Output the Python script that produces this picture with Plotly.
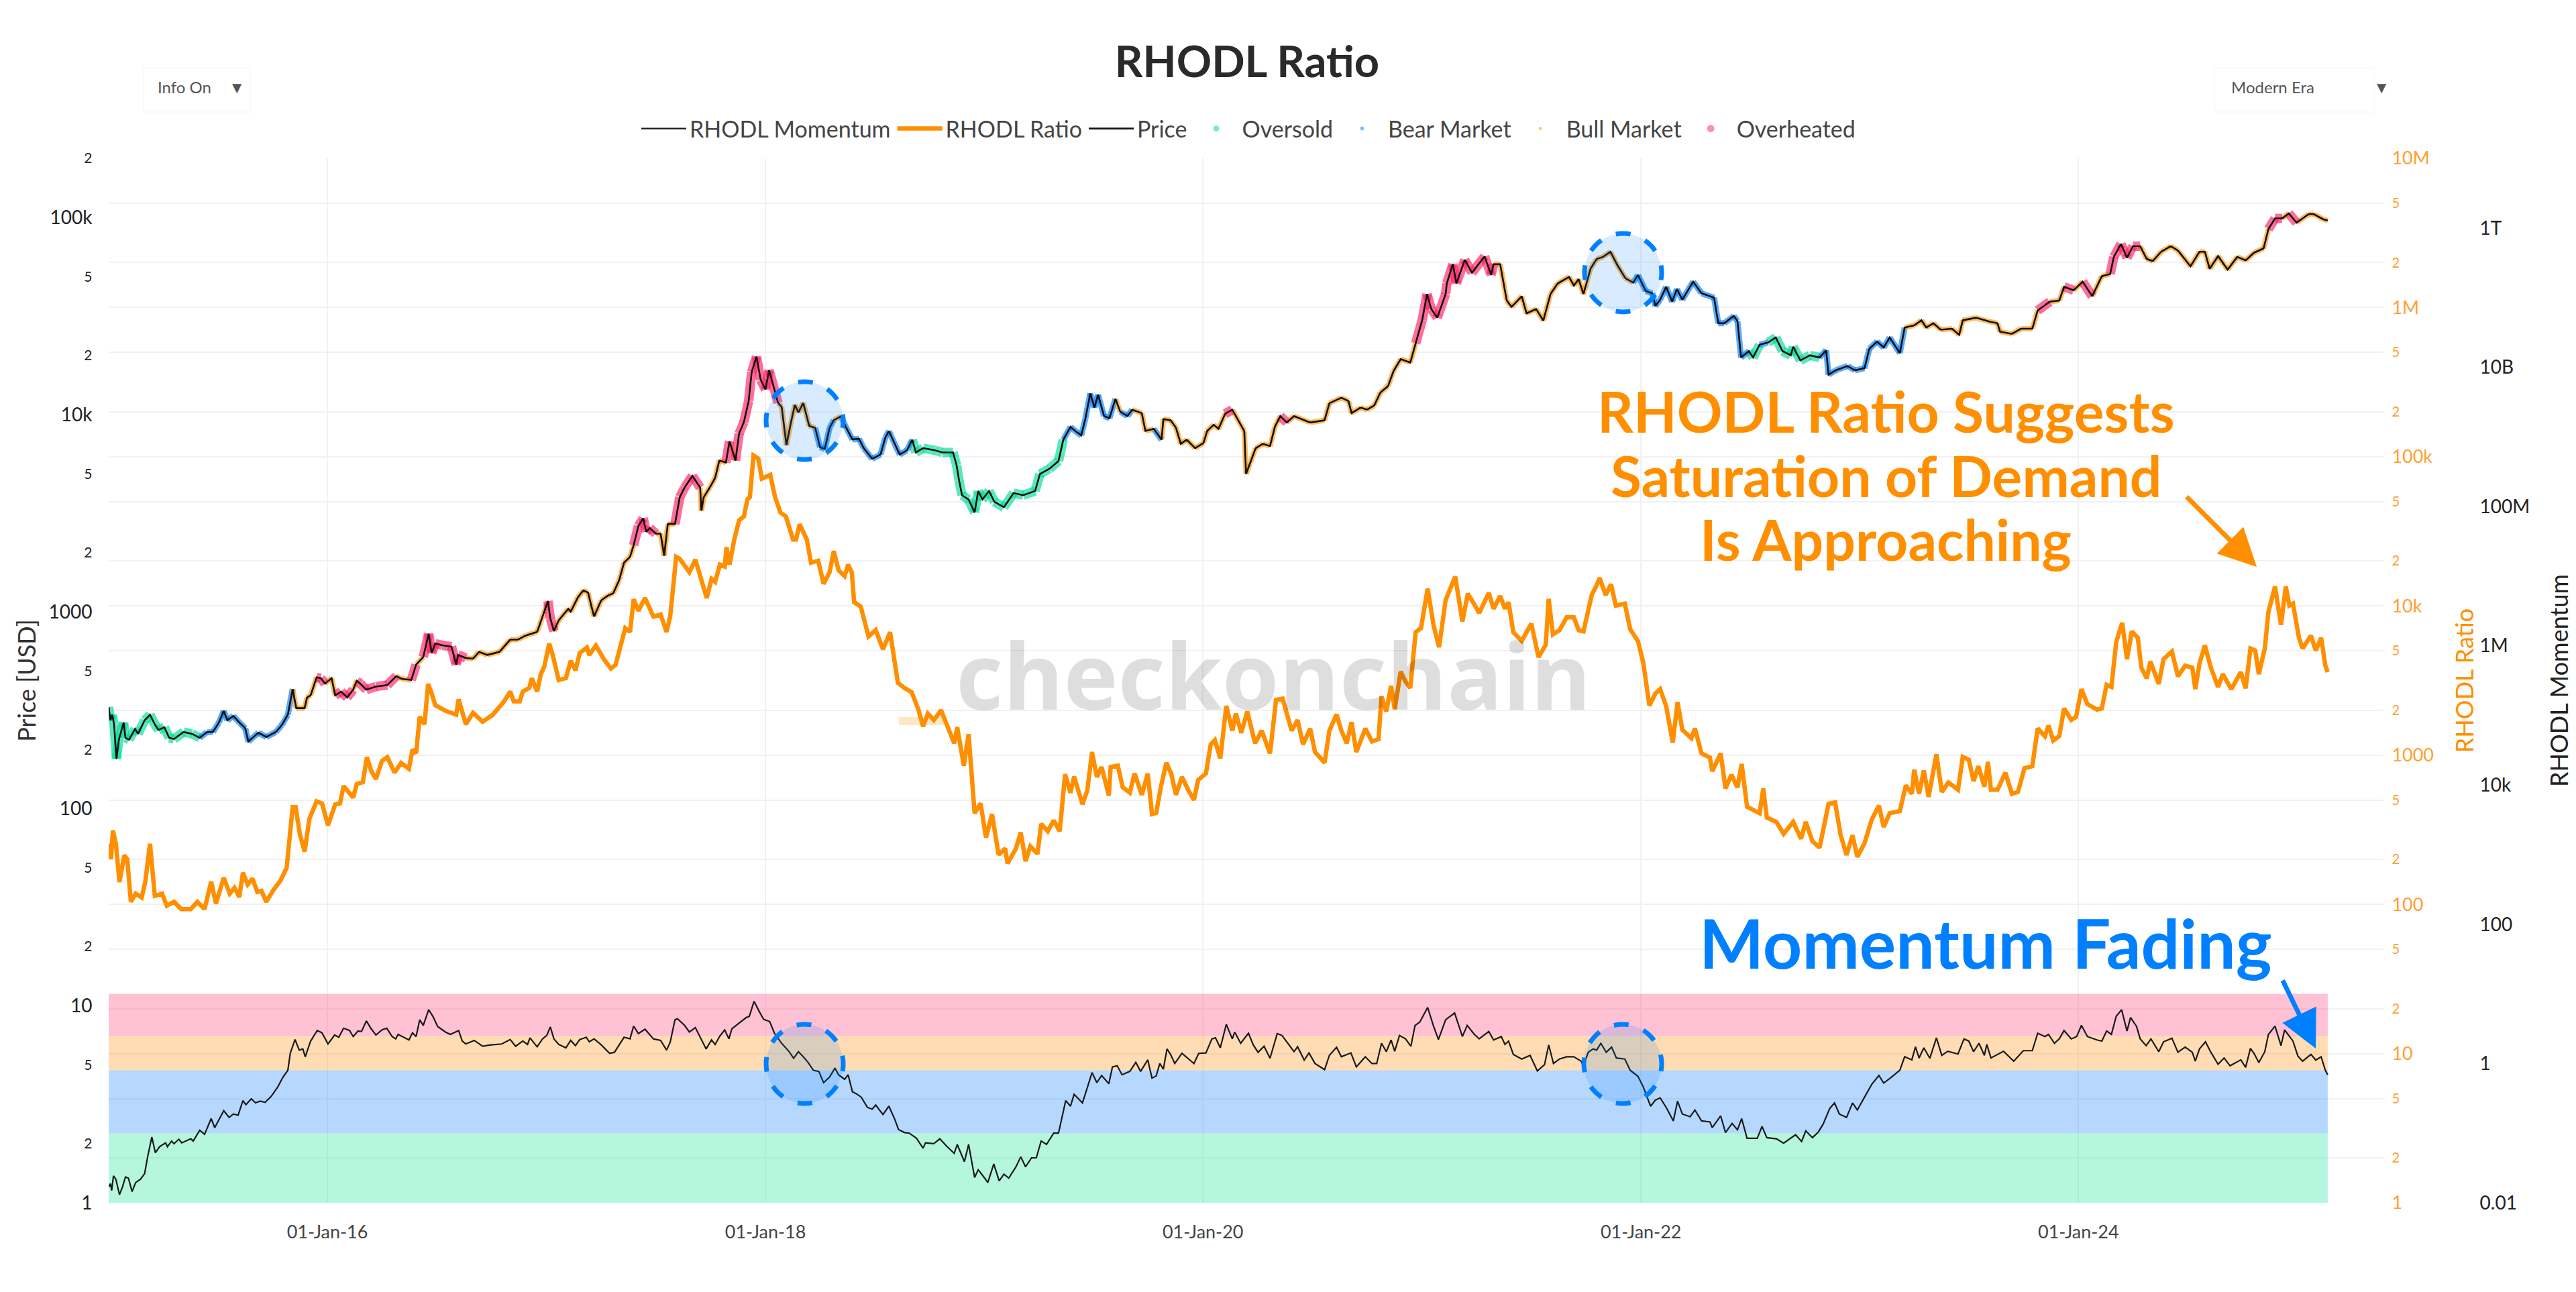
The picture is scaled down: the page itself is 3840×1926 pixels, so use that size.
import numpy as np
import pandas as pd
import plotly.graph_objects as go

# days since 01-Jan-2015
price_days = [0, 3, 6, 9, 13, 17, 25, 28, 34, 44, 49, 60, 69, 77, 83, 93, 101, 109, 125, 139, 152, 164, 174, 184, 192, 198,
    208, 218, 228, 233, 240, 250, 263, 279, 289, 299, 307, 313, 327, 331, 337, 347, 354, 361, 372, 378, 388, 398, 408, 414,
    420, 430, 446, 465, 480, 489, 505, 513, 525, 534, 539, 545, 557, 572, 580, 583, 596, 608, 618, 632, 652, 670, 683, 695,
    715, 723, 733, 737, 743, 751, 767, 771, 783, 792, 800, 805, 810, 822, 834, 842, 852, 860, 870, 876, 884, 892, 897, 903,
    913, 921, 927, 933, 945, 953, 961, 974, 987, 989, 993, 1003, 1012, 1019, 1030, 1036, 1046, 1052, 1060, 1068, 1073, 1081,
    1088, 1096, 1102, 1110, 1117, 1123, 1131, 1138, 1145, 1151, 1159, 1169, 1179, 1187, 1195, 1203, 1210, 1222, 1231, 1241,
    1252, 1260, 1274, 1288, 1296, 1302, 1310, 1320, 1332, 1341, 1347, 1359, 1379, 1391, 1409, 1415, 1419, 1424, 1435, 1445,
    1451, 1458, 1469, 1478, 1494, 1510, 1526, 1546, 1554, 1570, 1585, 1593, 1605, 1613, 1623, 1630, 1638, 1645, 1651, 1661,
    1670, 1680, 1688, 1700, 1708, 1724, 1730, 1744, 1757, 1760, 1772, 1781, 1789, 1799, 1813, 1827, 1833, 1844, 1852, 1863,
    1875, 1886, 1895, 1898, 1906, 1914, 1926, 1938, 1946, 1955, 1966, 1978, 2005, 2029, 2037, 2057, 2069, 2074, 2089, 2100,
    2112, 2122, 2135, 2144, 2156, 2172, 2181, 2192, 2200, 2207, 2217, 2231, 2233, 2243, 2249, 2263, 2275, 2296, 2307, 2311,
    2322, 2333, 2341, 2358, 2366, 2382, 2394, 2406, 2418, 2437, 2445, 2453, 2461, 2473, 2483, 2494, 2506, 2518, 2531, 2544,
    2552, 2565, 2576, 2581, 2589, 2599, 2609, 2617, 2626, 2644, 2658, 2679, 2686, 2696, 2712, 2718, 2724, 2737, 2744, 2755,
    2769, 2782, 2793, 2807, 2811, 2823, 2839, 2855, 2866, 2870, 2882, 2902, 2914, 2930, 2938, 2951, 2962, 2972, 2989, 2997,
    3013, 3025, 3033, 3045, 3057, 3076, 3088, 3094, 3116, 3140, 3152, 3156, 3176, 3191, 3210, 3219, 3239, 3255, 3263, 3279,
    3294, 3310, 3326, 3340, 3346, 3358, 3368, 3378, 3390, 3401, 3411, 3425, 3441, 3453, 3474, 3489, 3498, 3506, 3520, 3536,
    3552, 3566, 3580, 3596, 3604, 3615, 3627, 3638, 3651, 3671, 3680, 3695, 3703]
price_usd = [328, 281, 300, 268, 179, 224, 274, 229, 224, 254, 240, 281, 300, 268, 251, 259, 229, 226, 245, 240, 229, 245, 245, 274, 314, 281,
    296, 274, 256, 219, 229, 243, 231, 245, 266, 300, 405, 324, 324, 367, 376, 464, 460, 431, 460, 376, 393, 367, 402, 446,
    431, 402, 417, 424, 471, 456, 450, 538, 589, 773, 617, 690, 675, 665, 538, 603, 582, 577, 625, 603, 625, 721, 721, 755,
    789, 924, 1132, 924, 797, 904, 1035, 1000, 1183, 1282, 1250, 1083, 946, 1143, 1211, 1239, 1449, 1774, 1898, 2173, 2723, 2979, 2543, 2661,
    2489, 2489, 1923, 2786, 2786, 3811, 4266, 4887, 4266, 3258, 3811, 4266, 4775, 5848, 5715, 7328, 5848, 8017, 9170, 11750, 16440, 19720,
    15030, 13430, 16830, 13740, 11480, 10970, 6998, 8968, 11220, 10250, 11480, 8770, 8570, 6839, 6690, 8570, 9376, 9810, 8570, 7480,
    7550, 6760, 5970, 6270, 7660, 8260, 7280, 6270, 6590, 7460, 6430, 6760, 6590, 6430, 6430, 5530, 4650, 3900, 3710, 3190,
    4100, 3710, 4100, 3610, 3390, 4000, 3900, 4100, 5000, 5320, 5820, 7460, 8670, 8260, 7850, 9590, 12820, 10860, 12620, 9840,
    9590, 12020, 10350, 9840, 10600, 10180, 8260, 8470, 7460, 9500, 9360, 8590, 7110, 7460, 6760, 7180, 8260, 8890, 8470, 10100,
    10600, 9230, 8260, 5000, 5820, 6760, 7110, 6930, 8670, 9840, 9120, 9840, 9120, 9360, 11430, 12190, 11720, 10180, 10860, 10600,
    11140, 12940, 13960, 16630, 19140, 18380, 23010, 30270, 40930, 34360, 31050, 40930, 46340, 58080, 46340, 61090, 52500, 63550, 51170, 58080,
    58080, 37930, 35210, 39900, 32660, 34360, 29990, 40930, 46340, 50000, 45190, 48750, 40930, 55210, 61660, 63240, 67140, 57150, 49200, 46770,
    51170, 42360, 41300, 35560, 38280, 44570, 37410, 43450, 38280, 47320, 41300, 39260, 29110, 29110, 31700, 29850, 19500, 21040, 19500, 22650,
    23230, 24660, 21040, 20000, 22130, 18840, 20000, 19500, 21230, 15960, 16790, 17660, 16790, 17220, 21580, 23500, 21880, 24660, 20510, 27670,
    28380, 30130, 27670, 29110, 26980, 27290, 25410, 30130, 31050, 29580, 29110, 26370, 25700, 27290, 27290, 33810, 37410, 37930, 44570, 42760,
    47320, 39900, 50470, 51760, 63240, 73450, 62520, 71610, 71610, 61660, 60120, 67140, 71610, 68080, 56620, 67140, 67140, 54950, 63830, 54450,
    63240, 60670, 66370, 69820, 87500, 99080, 99080, 105200, 94190, 104100, 104100, 98200, 96600]

ratio_days = [0, 4, 7, 12, 18, 22, 26, 31, 37, 45, 55, 61, 69, 77, 89, 97, 109, 121, 137, 148, 160, 171, 179, 192, 202, 210,
    218, 224, 232, 240, 248, 255, 263, 275, 287, 297, 307, 312, 319, 327, 335, 347, 356, 366, 378, 386, 392, 408, 414, 424,
    431, 438, 446, 456, 465, 477, 488, 501, 507, 513, 519, 527, 533, 538, 545, 562, 580, 584, 596, 608, 624, 641, 660, 670,
    676, 686, 691, 702, 706, 715, 721, 727, 735, 741, 751, 763, 771, 779, 786, 798, 802, 813, 826, 838, 846, 862, 870, 876,
    884, 895, 909, 921, 931, 937, 947, 953, 961, 969, 979, 989, 998, 1006, 1012, 1020, 1028, 1031, 1036, 1044, 1052, 1060,
    1066, 1070, 1076, 1084, 1090, 1104, 1112, 1121, 1130, 1142, 1147, 1153, 1159, 1165, 1172, 1184, 1193, 1203, 1210, 1218,
    1228, 1234, 1240, 1244, 1255, 1264, 1268, 1280, 1292, 1304, 1312, 1317, 1328, 1340, 1351, 1359, 1367, 1377, 1389, 1399,
    1411, 1416, 1427, 1435, 1445, 1455, 1464, 1474, 1485, 1496, 1500, 1514, 1522, 1530, 1538, 1550, 1556, 1567, 1577, 1587,
    1596, 1605, 1611, 1625, 1633, 1641, 1649, 1657, 1669, 1672, 1684, 1692, 1704, 1712, 1724, 1734, 1741, 1748, 1756, 1765,
    1773, 1781, 1791, 1802, 1811, 1818, 1831, 1839, 1846, 1855, 1865, 1875, 1881, 1890, 1900, 1913, 1924, 1938, 1948, 1959,
    1974, 1984, 1993, 2005, 2013, 2029, 2037, 2049, 2057, 2066, 2074, 2082, 2097, 2108, 2119, 2124, 2132, 2140, 2146, 2156,
    2164, 2172, 2181, 2190, 2201, 2211, 2220, 2231, 2247, 2259, 2268, 2279, 2287, 2303, 2311, 2322, 2330, 2336, 2344, 2358,
    2374, 2386, 2398, 2403, 2410, 2421, 2433, 2445, 2453, 2461, 2469, 2475, 2483, 2488, 2498, 2507, 2515, 2530, 2539, 2552,
    2561, 2571, 2581, 2589, 2599, 2610, 2618, 2626, 2641, 2647, 2658, 2672, 2676, 2690, 2698, 2708, 2718, 2725, 2734, 2755,
    2761, 2767, 2783, 2795, 2811, 2824, 2832, 2843, 2855, 2870, 2881, 2890, 2900, 2910, 2918, 2930, 2942, 2954, 2962, 2972,
    2989, 2999, 3009, 3013, 3021, 3029, 3037, 3050, 3059, 3070, 3086, 3094, 3104, 3112, 3120, 3130, 3136, 3141, 3152, 3165,
    3176, 3186, 3197, 3210, 3219, 3231, 3237, 3245, 3255, 3263, 3275, 3283, 3292, 3302, 3318, 3326, 3334, 3342, 3350, 3360,
    3368, 3376, 3386, 3392, 3401, 3407, 3421, 3429, 3443, 3453, 3465, 3477, 3482, 3489, 3498, 3508, 3520, 3528, 3542, 3558,
    3566, 3574, 3582, 3588, 3598, 3604, 3615, 3625, 3633, 3639, 3645, 3655, 3661, 3675, 3683, 3692, 3699, 3703]
ratio_vals = [255, 201, 313, 255, 141, 173, 213, 201, 104, 118, 111, 141, 255, 114, 118, 98, 104, 93, 93, 104, 93, 142, 101, 151, 118, 129,
    112, 163, 136, 149, 121, 123, 104, 125, 145, 176, 448, 448, 296, 226, 375, 490, 475, 339, 467, 475, 621, 520, 640, 659,
    970, 787, 692, 914, 970, 765, 887, 811, 1091, 1030, 1811, 1607, 2999, 2667, 2163, 1982, 1866, 2366, 1607, 1923, 1675, 1866, 2296, 2667,
    2296, 2296, 2667, 2825, 3281, 2667, 3483, 3920, 5598, 4688, 3184, 3281, 4285, 3698, 4831, 5272, 4688, 5433, 4416, 3802, 4036, 7096, 6699, 11090,
    9290, 11300, 8492, 8750, 6699, 8492, 21330, 20700, 18370, 16830, 20460, 14930, 11300, 15200, 14490, 18920, 18370, 24720, 18920, 27860, 37500, 39810,
    52000, 53580, 101900, 97050, 71290, 75680, 53580, 42270, 39810, 27860, 27860, 35320, 31400, 27860, 19500, 20090, 14060, 16830, 23330, 17340,
    15850, 18920, 16800, 10590, 9910, 7360, 6240, 6880, 5120, 6670, 4200, 3050, 2820, 2640, 2030, 1560, 1900, 1720, 2000, 1560,
    1200, 1540, 850, 1380, 408, 475, 280, 403, 215, 237, 188, 237, 303, 195, 245, 218, 346, 309, 365, 309,
    745, 560, 719, 469, 579, 1050, 714, 832, 535, 832, 850, 610, 560, 753, 542, 753, 403, 410, 618, 889,
    753, 542, 714, 579, 500, 682, 753, 1180, 1262, 951, 2138, 1459, 1900, 1413, 1963, 1200, 1459, 1028, 2350, 2393,
    1459, 1720, 1180, 1507, 1050, 889, 1459, 1875, 1459, 1200, 1663, 1050, 1507, 1236, 1279, 2472, 1963, 2917, 2030, 3631,
    3119, 2820, 6670, 7120, 13060, 7360, 5290, 10940, 15740, 7860, 12080, 10230, 8970, 12250, 9580, 11670, 9580, 10590, 6670, 5840,
    7610, 4540, 5470, 11150, 6440, 6880, 8390, 8390, 6880, 6750, 9580, 11910, 13770, 15420, 11830, 13960, 10050, 10370, 6980, 5810,
    4120, 2150, 2590, 2770, 2130, 1213, 2270, 1479, 1297, 1510, 1028, 964, 780, 1028, 598, 740, 607, 873, 451, 408,
    598, 382, 357, 297, 357, 275, 357, 265, 240, 472, 482, 293, 214, 290, 208, 257, 370, 459, 330, 408,
    422, 627, 550, 800, 550, 790, 525, 1014, 567, 656, 586, 975, 931, 670, 843, 615, 901, 586, 586, 764,
    550, 567, 817, 843, 1510, 1340, 1581, 1253, 1340, 2056, 1722, 1803, 2770, 2198, 2018, 2056, 2958, 2864, 5728, 7709,
    4395, 6761, 6124, 3855, 3266, 4256, 3000, 4395, 4955, 3373, 3981, 3855, 2770, 4120, 5433, 3855, 2864, 3491, 2770, 3606,
    2806, 5188, 5023, 3491, 5188, 9099, 13520, 7464, 13520, 10050, 10370, 6124, 5188, 6324, 5023, 6124, 3981, 3606]

momentum_days = [0, 3, 5, 8, 12, 18, 23, 28, 33, 39, 45, 53, 60, 65, 72, 78, 85, 95, 98, 105, 109, 117, 122, 137, 141, 152,
    160, 171, 177, 192, 201, 208, 216, 224, 229, 238, 245, 253, 261, 271, 282, 291, 299, 303, 311, 318, 324, 328, 337, 348,
    356, 366, 377, 384, 392, 402, 408, 416, 422, 430, 438, 446, 456, 464, 473, 479, 483, 493, 501, 507, 513, 519, 525, 534,
    541, 549, 562, 570, 584, 590, 596, 610, 624, 638, 656, 670, 679, 691, 699, 703, 715, 724, 731, 737, 743, 751, 763, 771,
    779, 786, 797, 802, 810, 822, 836, 844, 860, 870, 876, 884, 895, 909, 921, 931, 937, 945, 949, 961, 969, 979, 989, 997,
    1006, 1012, 1020, 1028, 1035, 1040, 1052, 1064, 1069, 1077, 1085, 1093, 1103, 1111, 1123, 1135, 1143, 1151, 1159, 1167, 1176, 1185,
    1193, 1203, 1212, 1218, 1228, 1234, 1241, 1248, 1256, 1266, 1274, 1280, 1292, 1302, 1312, 1318, 1328, 1336, 1348, 1359, 1363, 1377,
    1387, 1399, 1411, 1416, 1428, 1435, 1445, 1451, 1461, 1467, 1477, 1486, 1494, 1502, 1514, 1522, 1530, 1540, 1548, 1556, 1565, 1577,
    1585, 1597, 1605, 1611, 1625, 1641, 1649, 1657, 1669, 1675, 1683, 1691, 1704, 1714, 1722, 1734, 1741, 1748, 1754, 1760, 1766, 1772,
    1779, 1791, 1811, 1819, 1831, 1841, 1847, 1855, 1865, 1875, 1879, 1889, 1902, 1910, 1918, 1928, 1938, 1950, 1958, 1978, 1984, 1995,
    2003, 2013, 2029, 2037, 2049, 2057, 2073, 2082, 2097, 2108, 2116, 2124, 2132, 2140, 2146, 2154, 2164, 2173, 2180, 2188, 2201, 2211,
    2219, 2231, 2246, 2259, 2267, 2279, 2287, 2303, 2311, 2324, 2330, 2336, 2344, 2358, 2372, 2384, 2396, 2403, 2411, 2421, 2433, 2445,
    2457, 2461, 2469, 2477, 2483, 2490, 2499, 2508, 2516, 2530, 2539, 2552, 2561, 2573, 2581, 2589, 2599, 2611, 2618, 2626, 2639, 2647,
    2658, 2672, 2676, 2690, 2698, 2709, 2718, 2725, 2734, 2751, 2759, 2767, 2783, 2795, 2815, 2825, 2832, 2843, 2853, 2861, 2872, 2880,
    2888, 2900, 2910, 2918, 2930, 2942, 2954, 2962, 2973, 2989, 2997, 3009, 3015, 3021, 3029, 3039, 3050, 3059, 3069, 3086, 3096, 3104,
    3112, 3121, 3130, 3134, 3141, 3162, 3179, 3195, 3210, 3219, 3231, 3237, 3247, 3255, 3263, 3275, 3284, 3292, 3302, 3318, 3326, 3334,
    3342, 3350, 3359, 3368, 3374, 3384, 3390, 3400, 3408, 3421, 3429, 3443, 3453, 3465, 3477, 3482, 3489, 3499, 3508, 3520, 3530, 3540,
    3558, 3566, 3574, 3580, 3588, 3598, 3604, 3615, 3625, 3631, 3645, 3653, 3661, 3675, 3683, 3692, 3699, 3703]
momentum_vals = [.0168, .0188, .0150, .0244, .0218, .0131, .0168, .0235, .0226, .0145, .0195, .0218, .0262, .0458, .0881, .0523, .0640, .0726, .0640, .0771, .0705, .0818, .0726, .0830, .0771, .110,
    .0964, .162, .120, .210, .168, .188, .181, .293, .256, .311, .272, .289, .277, .336, .458, .640, .800, 1.40, 2.21, 1.56, 1.62, 1.25, 2.10, 2.98,
    2.76, 1.91, 2.56, 2.38, 3.21, 2.98, 2.44, 2.93, 2.89, 4.09, 3.16, 2.56, 3.04, 3.21, 2.44, 2.26, 2.62, 2.38, 2.18, 2.76, 2.44, 4.25, 3.53, 5.94,
    4.76, 3.40, 2.83, 2.62, 2.98, 2.10, 1.91, 2.15, 1.77, 1.85, 1.91, 2.21, 1.77, 2.10, 1.88, 2.34, 1.74, 2.26, 2.53, 3.35, 2.26, 1.88, 1.68, 2.15,
    1.81, 2.21, 2.38, 2.05, 2.26, 1.85, 1.40, 1.45, 2.38, 2.26, 3.45, 2.69, 3.11, 2.26, 2.15, 1.56, 2.02, 4.25, 4.41, 3.53, 2.83, 3.28, 2.26, 1.62,
    2.18, 1.88, 2.49, 3.04, 2.26, 3.16, 3.80, 4.58, 4.76, 7.82, 5.71, 4.31, 4.01, 2.72, 1.95, 1.50, 1.19, 1.48, 1.25, 1.04, .800, .771,
    .531, .640, .861, .689, .594, .689, .394, .366, .328, .235, .221, .253, .185, .244, .156, .113, .102, .100, .0843, .0608, .0726, .0705,
    .0830, .0640, .0513, .0689, .0389, .0689, .0231, .0298, .0231, .0195, .0361, .0206, .0257, .0226, .0328, .0458, .0328, .0442, .0442, .0771, .0689, .100,
    .100, .293, .244, .361, .272, .741, .531, .674, .512, .893, .927, .689, .771, 1.04, .771, 1.13, .617, .664, 1.0, .830, 1.62, 1.35,
    1.0, 1.40, 1.0, 1.40, 1.42, 2.26, 2.34, 1.68, 3.66, 2.26, 2.83, 1.95, 2.72, 1.85, 1.45, 1.77, 1.19, 2.69, 2.53, 1.48, 1.74, 1.12,
    1.42, 1.0, .817, 1.31, 1.71, 1.25, 1.42, .893, 1.25, 1.0, 1.0, 1.95, 1.48, 2.18, 1.50, 2.53, 2.26, 1.77, 3.53, 3.94, 6.39, 3.40,
    2.21, 4.25, 5.31, 2.44, 3.53, 2.62, 2.26, 2.89, 2.18, 2.44, 1.88, 2.10, 1.35, 1.16, 1.31, .782, .962, 1.85, 1.0, 1.16, 1.25, 1.25,
    1.08, .927, 1.45, 1.62, 1.56, 1.95, 1.45, 1.72, 1.20, 1.16, .800, .654, .458, .244, .298, .321, .235, .150, .289, .188, .172, .215,
    .150, .145, .120, .177, .102, .138, .112, .162, .0843, .0843, .125, .0862, .0830, .0716, .0949, .0759, .108, .0862, .104, .135, .226, .272,
    .188, .168, .272, .215, .328, .501, .674, .524, .617, .800, 1.25, 1.13, 1.74, 1.20, 1.68, 1.19, 2.34, 1.31, 1.50, 1.37, 2.26, 2.10,
    1.48, 1.95, 1.31, 1.88, 1.20, 1.50, 1.08, 1.53, 1.53, 2.72, 2.44, 2.62, 1.95, 2.26, 2.98, 2.26, 2.44, 3.53, 2.44, 2.18, 2.10, 2.93,
    2.62, 4.76, 5.94, 2.93, 4.58, 3.40, 2.26, 1.81, 2.26, 1.48, 2.05, 2.31, 1.45, 1.72, 1.45, 1.08, 1.62, 2.05, 1.45, .977, 1.20, .927,
    1.13, .881, 1.65, 1.40, 1.03, 1.48, 2.62, 3.45, 1.81, 3.04, 2.10, 1.29, 1.08, 1.35, 1.12, 1.25, .800, .689]

zone_names = ["Oversold", "Bear Market", "Bull Market", "Overheated"]
zone_limits = [0.01, 0.1, 0.8, 2.5, 10]
callout_lines = ["RHODL Ratio Suggests", "Saturation of Demand", "Is Approaching"]

PRICE_TOP = 5.301
MOM_RANGE = [-2, 13]

START = pd.Timestamp("2015-01-01")


def to_dates(days):
    return START + pd.to_timedelta(days, unit="D")


# pixel positions of the reference page -> paper fractions
def px(x):
    return (x - 162) / 3658


def py(y):
    return (1793 - y) / 1557


# momentum level expressed on the price axis, the "between" layer only exists on the main subplot
def mom_on_price_axis(m):
    return 10 ** ((np.log10(m) - MOM_RANGE[0]) / (MOM_RANGE[1] - MOM_RANGE[0]) * PRICE_TOP)


FONT = "Lato"
ORANGE = "#ff8f00"
BLUE = "#0080ff"
zone_halo = ["rgba(0,220,150,0.65)", "rgba(0,128,255,0.65)", "rgba(255,147,0,0.6)", "rgba(255,30,100,0.65)"]
zone_dot = ["#7fe9c4", "#80bfff", "#ffc780", "#ff8fb0"]
zone_width = [14, 9, 8, 14]
zone_dot_size = [9, 6, 5, 11]
zone_band = ["rgba(8,225,145,0.3)", "rgba(12,125,255,0.3)", "rgba(255,138,2,0.3)", "rgba(255,51,112,0.3)"]

# zone of every price point comes from where momentum sits on that day
mom_at_price = np.interp(price_days, momentum_days, momentum_vals)
price_zone = np.clip(np.searchsorted(zone_limits[1:-1], mom_at_price), 0, 3)

fig = go.Figure()

fig.add_trace(go.Scatter(x=to_dates(momentum_days), y=momentum_vals, name="RHODL Momentum", yaxis="y3",
                         mode="lines", line=dict(color="#1a1a1a", width=2.2)))
fig.add_trace(go.Scatter(x=to_dates(ratio_days), y=ratio_vals, name="RHODL Ratio", yaxis="y2",
                         mode="lines", line=dict(color=ORANGE, width=6.5)))

for z, zname in enumerate(zone_names):
    xs, ys = [], []
    for i in range(len(price_days) - 1):
        if price_zone[i] == z:
            xs += [to_dates(price_days[i]), to_dates(price_days[i + 1]), None]
            ys += [price_usd[i], price_usd[i + 1], None]
    fig.add_trace(go.Scatter(x=xs, y=ys, mode="lines", showlegend=False, legendgroup=zname, hoverinfo="skip",
                             line=dict(color=zone_halo[z], width=zone_width[z])))

fig.add_trace(go.Scatter(x=to_dates(price_days), y=price_usd, name="Price", mode="lines",
                         line=dict(color="#111111", width=2.6)))

for z, zname in enumerate(zone_names):
    fig.add_trace(go.Scatter(x=[None], y=[None], name=zname, legendgroup=zname, mode="markers",
                             marker=dict(color=zone_dot[z], size=zone_dot_size[z])))

shapes = []
for z in range(4):
    shapes.append(dict(type="rect", xref="x", yref="y", layer="between", line_width=0, fillcolor=zone_band[z],
                       x0=START, x1=to_dates(price_days[-1]),
                       y0=mom_on_price_axis(zone_limits[z]), y1=mom_on_price_axis(zone_limits[z + 1])))
shapes.append(dict(type="rect", xref="paper", yref="paper", layer="below", line_width=0, fillcolor="#ffe7c6",
                   x0=px(1340), x1=px(1407), y0=py(1081), y1=py(1069)))
# faint frames of the two dropdowns
for x0, x1 in [(214, 373), (3301, 3539)]:
    shapes.append(dict(type="rect", xref="paper", yref="paper", layer="below", fillcolor="white",
                       line=dict(color="#fafafa", width=2), x0=px(x0), x1=px(x1), y0=py(167), y1=py(101)))
for x0, x1, y0, y1 in [(1142, 1257, 569, 685), (2362, 2477, 348, 465), (1142, 1257, 1527, 1645), (2361, 2477, 1527, 1645)]:
    shapes.append(dict(type="circle", xref="paper", yref="paper", layer="above",
                       x0=px(x0), x1=px(x1), y0=py(y1), y1=py(y0), fillcolor="rgba(0,128,255,0.15)",
                       line=dict(color=BLUE, width=7, dash="11px,23.5px,11px,0px")))

annotations = [
    dict(text="<b>checkonchain</b>", xref="paper", yref="paper", x=px(1898), y=py(1005), showarrow=False,
         xanchor="center", yanchor="middle", font=dict(family="Open Sans", size=137, color="rgba(0,0,0,0.13)")),
    dict(text="<b>Momentum Fading</b>", xref="paper", yref="paper", x=px(2960), y=py(1404), showarrow=False,
         xanchor="center", yanchor="middle", font=dict(family=FONT, size=102, color=BLUE)),
    dict(text="", xref="paper", yref="paper", x=px(3364), y=py(845), ax=3258 - 3364, ay=739 - 845, showarrow=True,
         arrowhead=2, arrowsize=1.6, arrowwidth=7, arrowcolor=ORANGE),
    dict(text="", xref="paper", yref="paper", x=px(3452), y=py(1563), ax=3402 - 3452, ay=1460 - 1563, showarrow=True,
         arrowhead=2, arrowsize=1.6, arrowwidth=7, arrowcolor=BLUE),
]
for line, y in zip(callout_lines, [612, 708, 803]):
    annotations.append(dict(text=f"<b>{line}</b>", xref="paper", yref="paper", x=px(2811), y=py(y), showarrow=False,
                            xanchor="center", yanchor="middle", font=dict(family=FONT, size=84, color=ORANGE)))

fig.update_layout(
    width=3840, height=1926, margin=dict(l=162, r=20, t=236, b=133),
    paper_bgcolor="white", plot_bgcolor="white",
    font=dict(family=FONT, size=28, color="#444444"),
    title=dict(text="<b>RHODL Ratio</b>", x=1859 / 3840, xanchor="center", y=1 - 92 / 1926, yanchor="middle",
               font=dict(family=FONT, size=65, color="#2a2a2a")),
    legend=dict(orientation="h", xref="paper", x=px(1861), xanchor="center", y=py(192), yanchor="middle",
                font=dict(family=FONT, size=34, color="#444444"), itemwidth=67, bgcolor="rgba(0,0,0,0)"),
    xaxis=dict(domain=[0, 3391 / 3658], range=[START, "2025-05-24"], tick0="2016-01-01", dtick="M24",
               tickformat="%d-%b-%y", showgrid=True, gridcolor="#f1f1f1", gridwidth=2, zeroline=False,
               ticks="outside", ticklen=20, tickcolor="rgba(0,0,0,0)", tickfont=dict(size=27, color="#444444")),
    yaxis=dict(type="log", range=[0, PRICE_TOP], dtick="D2", showgrid=False, zeroline=False, ticks="outside", ticklen=18,
               tickcolor="rgba(0,0,0,0)", tickfont=dict(size=28, color="#222222"),
               title=dict(text="Price [USD]", standoff=7, font=dict(size=36, color="#333333"))),
    yaxis2=dict(type="log", range=[0, 7], dtick="D2", overlaying="y", side="right", showgrid=True, gridcolor="#f1f1f1",
                gridwidth=2, zeroline=False, ticks="outside", ticklen=6, tickcolor="rgba(0,0,0,0)",
                tickfont=dict(size=27, color="#ffa032"),
                title=dict(text="RHODL Ratio", standoff=34, font=dict(size=36, color=ORANGE))),
    yaxis3=dict(type="log", range=MOM_RANGE, dtick=2, overlaying="y", side="right", anchor="free",
                position=(3684 - 162) / 3658, showgrid=False, zeroline=False, ticks="outside", ticklen=6,
                tickcolor="rgba(0,0,0,0)", tickfont=dict(size=28, color="#222222"),
                title=dict(text="RHODL Momentum", standoff=32, font=dict(size=36, color="#222222"))),
    shapes=shapes, annotations=annotations,
    updatemenus=[
        dict(type="dropdown", x=px(223), y=py(118), xanchor="left", yanchor="top", showactive=False, pad=dict(t=0, l=0),
             bgcolor="rgba(255,255,255,0)", bordercolor="rgba(255,255,255,0)", borderwidth=0,
             font=dict(family=FONT, size=24, color="#555555"),
             buttons=[dict(label="Info On", method="skip"), dict(label="Info None", method="skip")]),
        dict(type="dropdown", x=px(3314), y=py(118), xanchor="left", yanchor="top", showactive=False, pad=dict(t=0, l=0),
             bgcolor="rgba(255,255,255,0)", bordercolor="rgba(255,255,255,0)", borderwidth=0,
             font=dict(family=FONT, size=24, color="#555555"),
             buttons=[dict(label="Modern Era", method="skip"), dict(label="Complete Era Views", method="skip")]),
    ],
)

fig.write_html("out.html", config=dict(displayModeBar=False, responsive=False),
               default_width="3840px", default_height="1926px",
               post_script="document.body.style.margin='0';document.documentElement.style.overflow='hidden';")
